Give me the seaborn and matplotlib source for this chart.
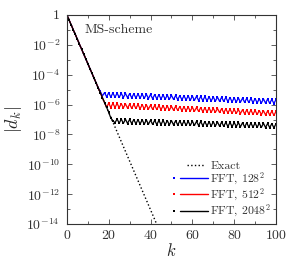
import numpy as np
import pandas as pd
import matplotlib
matplotlib.use('Agg')
import matplotlib.pyplot as plt
from matplotlib.lines import Line2D
from matplotlib.legend_handler import HandlerBase
from matplotlib.ticker import FixedLocator, FuncFormatter, NullFormatter
import seaborn as sns

# ----------------------------------------------------------------------------
# Data (log10 |d_k|)
# ----------------------------------------------------------------------------
exact_k = [0, 46]
exact_log = [0.0, -15.0]

fft128_log = [
    0.00, -0.33, -0.65, -0.98, -1.30, -1.63, -1.96, -2.28, -2.61, -2.93,
    -3.26, -3.59, -3.91, -4.24, -4.56, -4.89, -5.12, -5.42, -5.20, -5.48,
    -5.21, -5.50, -5.22, -5.51, -5.23, -5.52, -5.24, -5.53, -5.25, -5.54,
    -5.27, -5.55, -5.28, -5.56, -5.29, -5.57, -5.30, -5.58, -5.31, -5.60,
    -5.32, -5.61, -5.33, -5.62, -5.34, -5.63, -5.35, -5.64, -5.37, -5.65,
    -5.38, -5.66, -5.39, -5.67, -5.40, -5.68, -5.41, -5.69, -5.42, -5.71,
    -5.43, -5.72, -5.44, -5.73, -5.45, -5.74, -5.46, -5.75, -5.48, -5.76,
    -5.49, -5.77, -5.50, -5.78, -5.51, -5.79, -5.52, -5.80, -5.53, -5.82,
    -5.55, -5.83, -5.56, -5.84, -5.57, -5.85, -5.58, -5.86, -5.59, -5.87,
    -5.60, -5.89, -5.61, -5.90, -5.62, -5.91, -5.63, -5.92, -5.65, -5.93,
    -5.66,
]

fft512_log = [
    0.00, -0.33, -0.65, -0.98, -1.30, -1.63, -1.96, -2.28, -2.61, -2.93,
    -3.26, -3.59, -3.91, -4.24, -4.56, -4.89, -5.22, -5.54, -5.87, -6.19,
    -5.90, -6.20, -5.91, -6.20, -5.92, -6.21, -5.94, -6.22, -5.95, -6.24,
    -5.97, -6.25, -5.98, -6.26, -5.99, -6.28, -6.01, -6.29, -6.02, -6.30,
    -6.04, -6.32, -6.05, -6.33, -6.06, -6.34, -6.08, -6.35, -6.09, -6.37,
    -6.11, -6.38, -6.12, -6.39, -6.13, -6.41, -6.15, -6.42, -6.16, -6.44,
    -6.18, -6.45, -6.19, -6.46, -6.20, -6.48, -6.22, -6.49, -6.23, -6.51,
    -6.25, -6.52, -6.26, -6.53, -6.27, -6.55, -6.29, -6.56, -6.30, -6.58,
    -6.32, -6.59, -6.33, -6.60, -6.34, -6.62, -6.36, -6.63, -6.37, -6.65,
    -6.39, -6.66, -6.40, -6.67, -6.41, -6.69, -6.43, -6.70, -6.44, -6.72,
    -6.46,
]

fft2048_log = [
    0.00, -0.33, -0.65, -0.98, -1.30, -1.63, -1.96, -2.28, -2.61, -2.93,
    -3.26, -3.59, -3.91, -4.24, -4.56, -4.89, -5.22, -5.54, -5.87, -6.19,
    -6.52, -6.90, -7.08, -7.22, -6.96, -7.25, -6.97, -7.26, -6.98, -7.27,
    -6.99, -7.28, -7.00, -7.29, -7.01, -7.30, -7.02, -7.31, -7.03, -7.32,
    -7.04, -7.33, -7.05, -7.34, -7.06, -7.34, -7.06, -7.35, -7.07, -7.36,
    -7.07, -7.36, -7.08, -7.37, -7.09, -7.38, -7.10, -7.39, -7.11, -7.40,
    -7.11, -7.40, -7.12, -7.41, -7.13, -7.42, -7.14, -7.43, -7.15, -7.44,
    -7.15, -7.44, -7.16, -7.45, -7.17, -7.46, -7.18, -7.47, -7.19, -7.48,
    -7.19, -7.48, -7.20, -7.49, -7.21, -7.50, -7.22, -7.51, -7.23, -7.52,
    -7.23, -7.52, -7.24, -7.53, -7.25, -7.54, -7.26, -7.55, -7.27, -7.56,
    -7.28,
]

series_labels = [r'FFT, $128^2$', r'FFT, $512^2$', r'FFT, $2048^2$']
series_colors = ['#0000ff', '#ff0000', '#000000']
y_ticks = [1e0, 1e-2, 1e-4, 1e-6, 1e-8, 1e-10, 1e-12, 1e-14]
x_ticks = [0, 20, 40, 60, 80, 100]


class MarkerThenLine(HandlerBase):
    """legend key: small point, gap, then the line (gnuplot style)"""
    def create_artists(self, legend, orig_handle, xdescent, ydescent,
                       width, height, fontsize, trans):
        y = height / 2 - ydescent
        x0 = -xdescent
        col = orig_handle.get_color()
        mk = Line2D([x0], [y], marker='s', markersize=1.6,
                    markeredgewidth=0, color=col, linestyle='none')
        ln = Line2D([x0 + 0.18 * width, x0 + width], [y, y], color=col,
                    linewidth=orig_handle.get_linewidth())
        mk.set_transform(trans)
        ln.set_transform(trans)
        return [mk, ln]


class ShortLine(HandlerBase):
    """legend key for the exact curve: dotted line on the right part only"""
    def create_artists(self, legend, orig_handle, xdescent, ydescent,
                       width, height, fontsize, trans):
        y = height / 2 - ydescent
        x0 = -xdescent
        ln = Line2D([x0 + 0.38 * width, x0 + width * 0.92], [y, y],
                    color='black', linestyle=':',
                    linewidth=orig_handle.get_linewidth())
        ln.set_transform(trans)
        return [ln]


# ----------------------------------------------------------------------------
# Plot
# ----------------------------------------------------------------------------
sns.set_style('ticks')
plt.rcParams['font.family'] = 'serif'
plt.rcParams['font.serif'] = ['cmr10', 'DejaVu Serif']
plt.rcParams['mathtext.fontset'] = 'cm'
plt.rcParams['axes.formatter.use_mathtext'] = True

fig = plt.figure(figsize=(3.0, 2.71), dpi=100)
ax = fig.add_axes([0.223, 0.173, 0.697, 0.772])

ax.plot(exact_k, [10 ** v for v in exact_log], color='black', linestyle=':',
        linewidth=1.0)

k = np.arange(len(fft128_log))
for vals, col in zip([fft128_log, fft512_log, fft2048_log], series_colors):
    df = pd.DataFrame({'k': k, 'd': 10 ** np.array(vals)})
    sns.lineplot(data=df, x='k', y='d', ax=ax, color=col, linewidth=0.9,
                 marker='s', markersize=1.8, markeredgewidth=0, legend=False)

ax.set_yscale('log')
ax.set_xlim(0, 100)
ax.set_ylim(1e-14, 1)

ax.yaxis.set_major_locator(FixedLocator(y_ticks))
ax.yaxis.set_minor_locator(FixedLocator([10.0 ** -e for e in range(1, 15, 2)]))
ax.yaxis.set_major_formatter(FuncFormatter(
    lambda v, p: '1' if v == 1 else r'$10^{%d}$' % round(np.log10(v))))
ax.yaxis.set_minor_formatter(NullFormatter())
ax.xaxis.set_major_locator(FixedLocator(x_ticks))
ax.xaxis.set_minor_locator(FixedLocator([10, 30, 50, 70, 90]))

ax.tick_params(which='both', direction='in', top=True, right=True,
               labelsize=10, colors='#444444', labelcolor='#333333')
ax.tick_params(which='major', length=3.5, width=0.6)
ax.tick_params(which='minor', length=2, width=0.6)
ax.tick_params(axis='y', pad=5)
for s in ax.spines.values():
    s.set_linewidth(0.8)
    s.set_color('#333333')

ax.set_xlabel(r'$k$', fontsize=12, labelpad=0)
ax.set_ylabel(r'$|d_k|$', fontsize=13, labelpad=2)

ax.text(0.085, 0.93, 'MS-scheme', transform=ax.transAxes, fontsize=10,
        va='center', ha='left', color='#333333')

# legend
leg_handles = [Line2D([], [], color='black', linestyle=':', linewidth=1.0)]
leg_handles += [Line2D([], [], color=c, linewidth=1.0) for c in series_colors]
leg_labels = ['Exact'] + series_labels
handler_map = {h: MarkerThenLine() for h in leg_handles[1:]}
handler_map[leg_handles[0]] = ShortLine()
leg = ax.legend(leg_handles, leg_labels, handler_map=handler_map,
                loc='lower right', frameon=False, fontsize=8.5,
                handlelength=2.9, handletextpad=0.2, labelspacing=0.0,
                borderaxespad=0.1, borderpad=0.3)
for t in leg.get_texts():
    t.set_color('#333333')

plt.savefig('out.png', dpi=100)
plt.close()
